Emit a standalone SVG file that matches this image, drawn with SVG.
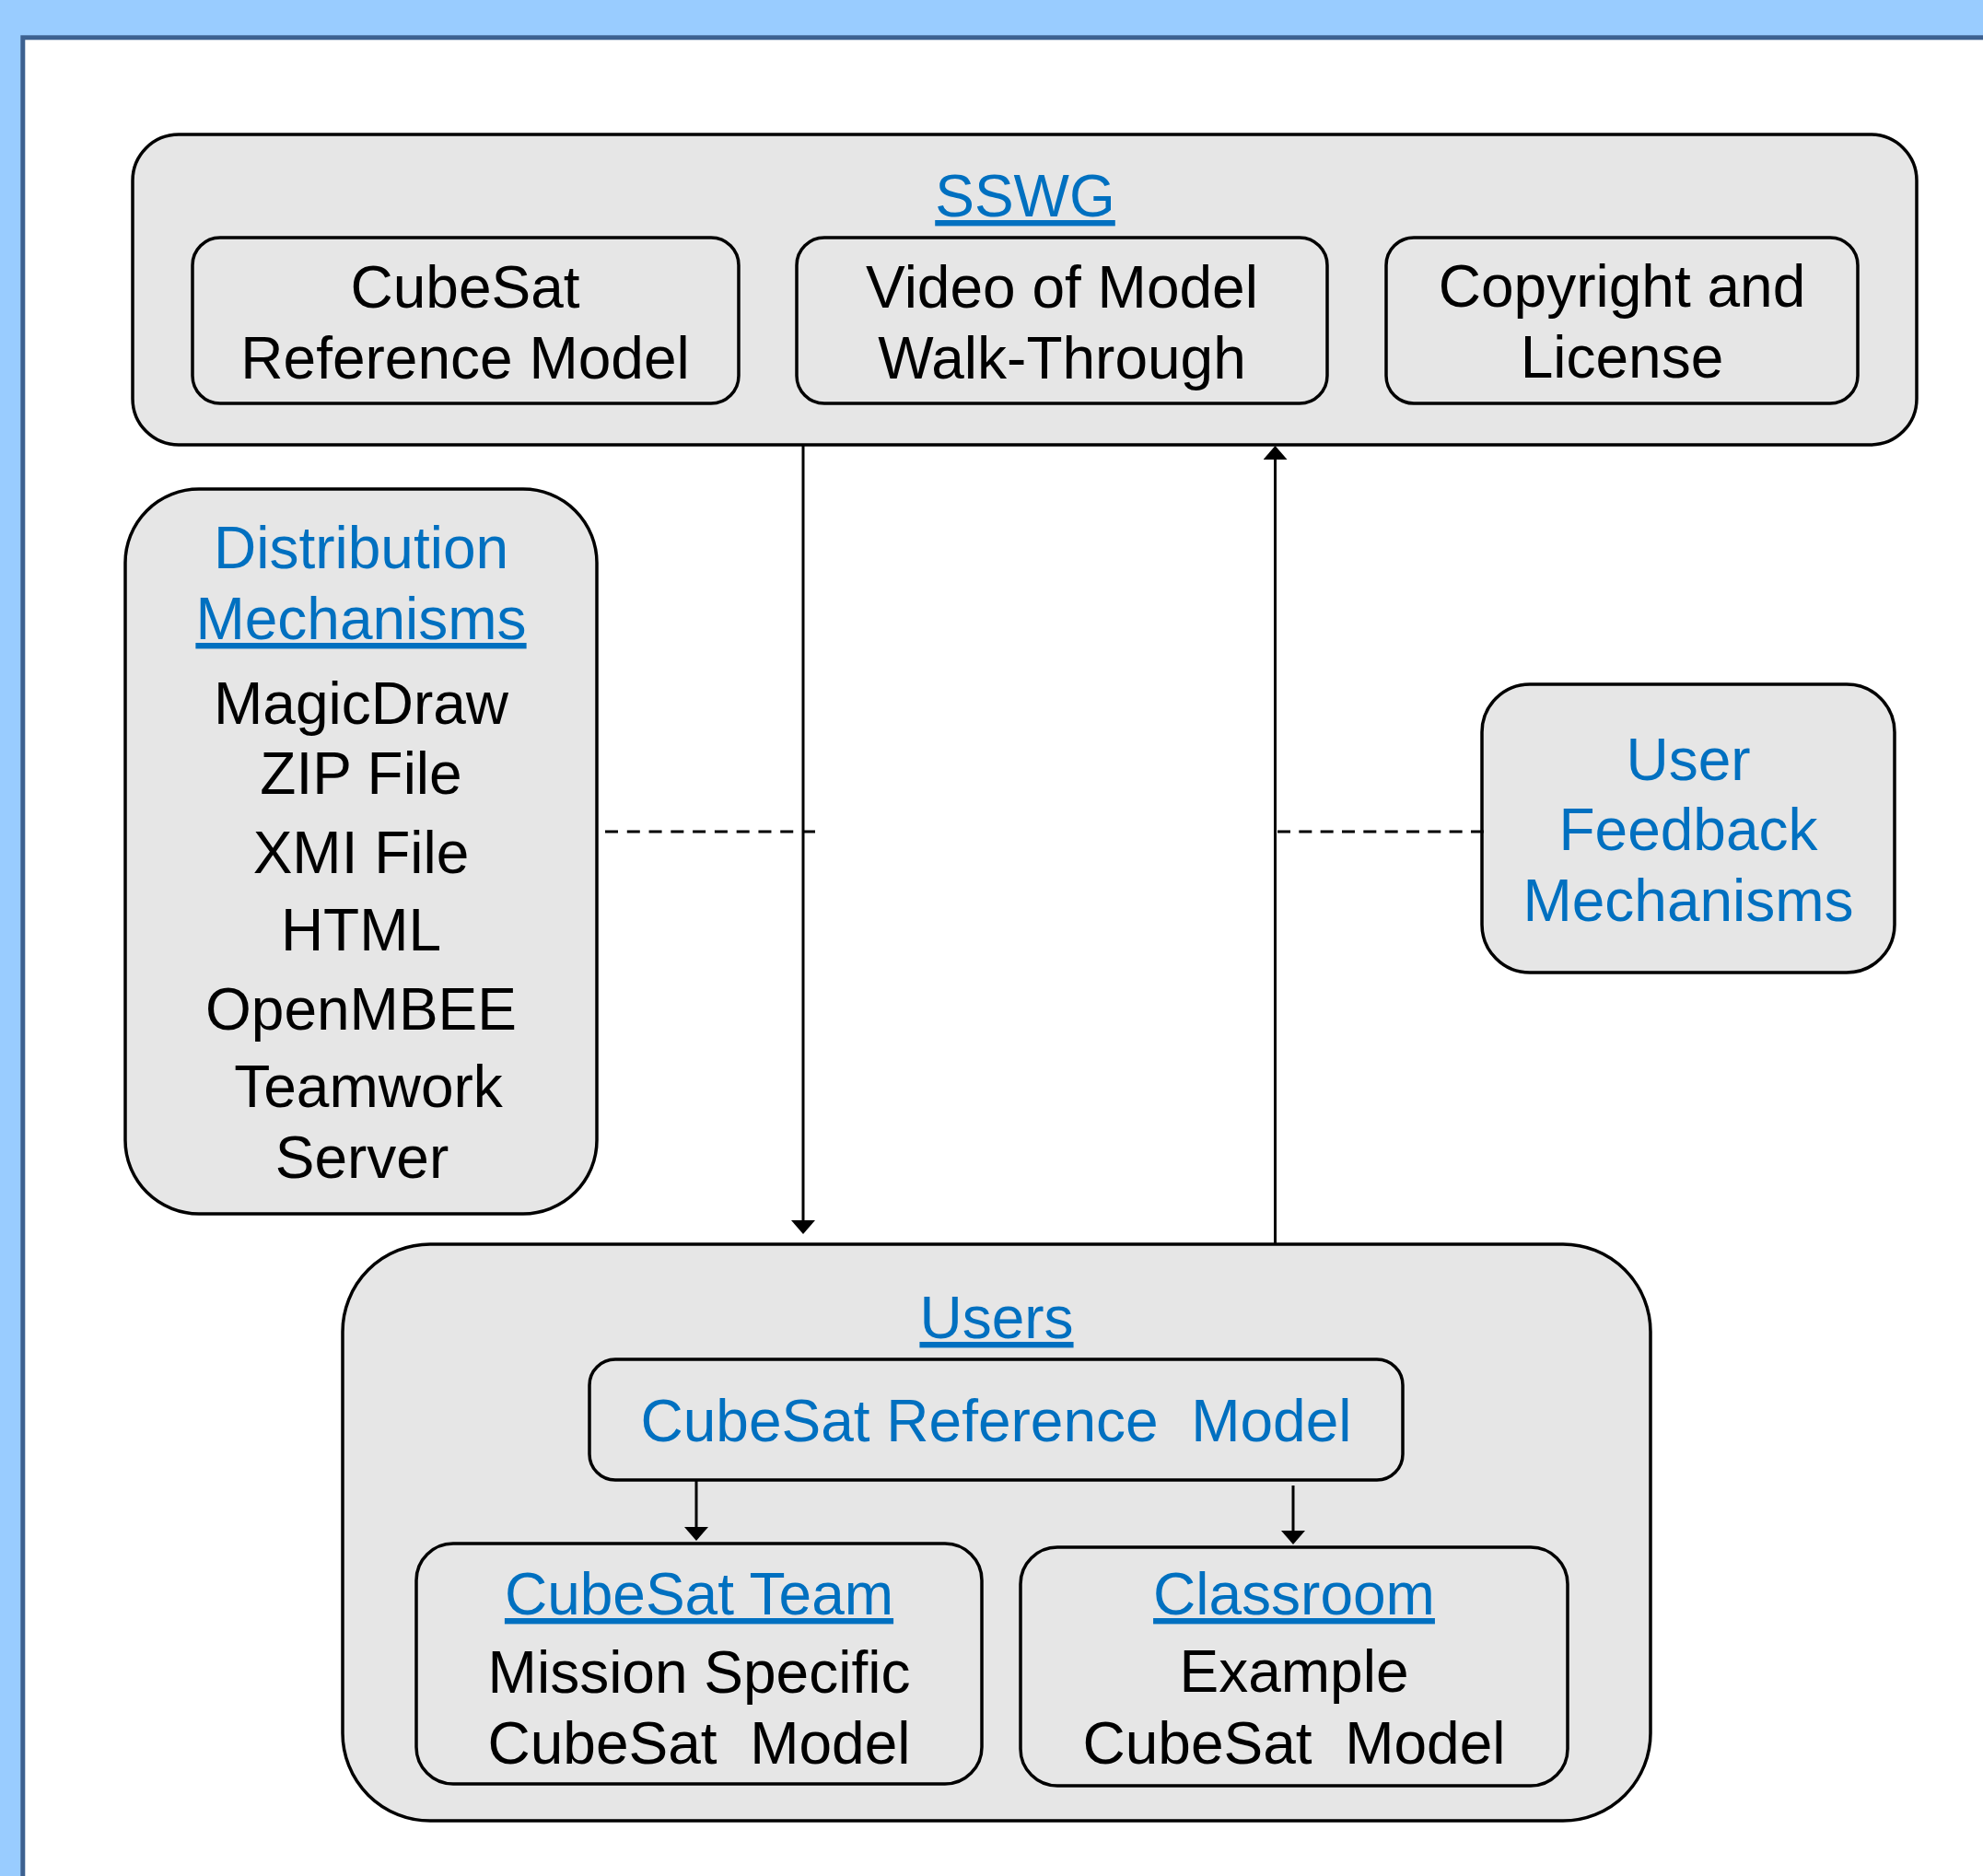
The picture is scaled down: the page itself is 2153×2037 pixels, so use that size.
<svg xmlns="http://www.w3.org/2000/svg" width="2153" height="2037" viewBox="0 0 2153 2037">
  <style>
    .box { fill: #E6E6E6; stroke: #000000; stroke-width: 3.5; }
    .t { font-family: "Liberation Sans", Arial, sans-serif; font-size: 64px; text-anchor: middle; fill: #000000; }
    .b { fill: #0070C0; }
    .u { text-decoration: underline; }
    .conn { stroke: #000000; stroke-width: 3; fill: none; }
    .dash { stroke: #000000; stroke-width: 3; fill: none; }
  </style>
  <defs>
    <marker id="arrow" markerUnits="userSpaceOnUse" markerWidth="16" markerHeight="26" refX="5" refY="13" orient="auto">
      <path d="M0,0 L15,13 L0,26 z" fill="#000000"/>
    </marker>
  </defs>

  <rect x="0" y="0" width="2153" height="2037" fill="#99CCFF"/>
  <rect x="24.8" y="40.8" width="2200" height="2100" fill="#FFFFFF" stroke="#3D6190" stroke-width="5"/>

  <g id="sswg">
    <rect class="box" x="144" y="146" width="1937" height="337" rx="50" ry="50"/>
    <text class="t b u" x="1113" y="235">SSWG</text>
  </g>
  <g id="cubesat-reference-model">
    <rect class="box" x="209" y="258" width="593" height="180" rx="30" ry="30"/>
    <text class="t" x="505" y="334">CubeSat</text>
    <text class="t" x="505" y="411">Reference Model</text>
  </g>
  <g id="video-walkthrough">
    <rect class="box" x="865" y="258" width="576" height="180" rx="30" ry="30"/>
    <text class="t" x="1153" y="334">Video of Model</text>
    <text class="t" x="1153" y="411">Walk-Through</text>
  </g>
  <g id="copyright-license">
    <rect class="box" x="1505" y="258" width="512" height="180" rx="30" ry="30"/>
    <text class="t" x="1761" y="333">Copyright and</text>
    <text class="t" x="1761" y="410">License</text>
  </g>

  <g id="distribution-mechanisms">
    <rect class="box" x="136" y="531" width="512" height="787" rx="80" ry="80"/>
    <text class="t b" x="392" y="617">Distribution</text>
    <text class="t b u" x="392" y="694">Mechanisms</text>
    <text class="t" x="392" y="786">MagicDraw</text>
    <text class="t" x="392" y="862">ZIP File</text>
    <text class="t" x="392" y="948">XMI File</text>
    <text class="t" x="392" y="1032">HTML</text>
    <text class="t" x="392" y="1118">OpenMBEE</text>
    <text class="t" x="400" y="1202">Teamwork</text>
    <text class="t" x="393" y="1279">Server</text>
  </g>

  <g id="user-feedback-mechanisms">
    <rect class="box" x="1609" y="743" width="448" height="313" rx="52" ry="52"/>
    <text class="t b" x="1833" y="847">User</text>
    <text class="t b" x="1833" y="923">Feedback</text>
    <text class="t b" x="1833" y="1000">Mechanisms</text>
  </g>

  <g id="users">
    <rect class="box" x="372" y="1351" width="1420" height="626" rx="95" ry="95"/>
    <text class="t b u" x="1082" y="1453">Users</text>
  </g>
  <g id="users-cubesat-reference-model">
    <rect class="box" x="640" y="1476" width="883" height="131" rx="28" ry="28"/>
    <text class="t b" x="1081.5" y="1565" xml:space="preserve">CubeSat Reference  Model</text>
  </g>
  <g id="cubesat-team">
    <rect class="box" x="452" y="1676" width="614" height="261" rx="40" ry="40"/>
    <text class="t b u" x="759" y="1753">CubeSat Team</text>
    <text class="t" x="759" y="1838">Mission Specific</text>
    <text class="t" x="759" y="1915" xml:space="preserve">CubeSat  Model</text>
  </g>
  <g id="classroom">
    <rect class="box" x="1108" y="1680" width="594" height="259" rx="40" ry="40"/>
    <text class="t b u" x="1405" y="1753">Classroom</text>
    <text class="t" x="1405" y="1837">Example</text>
    <text class="t" x="1405" y="1915" xml:space="preserve">CubeSat  Model</text>
  </g>

  <g id="connectors">
    <line class="conn" x1="872" y1="483" x2="872" y2="1330" marker-end="url(#arrow)"/>
    <line class="conn" x1="1384.5" y1="1351" x2="1384.5" y2="494" marker-end="url(#arrow)"/>
    <line class="dash" x1="657" y1="903" x2="885" y2="903" stroke-dasharray="14 9.78"/>
    <line class="dash" x1="1387" y1="903" x2="1611" y2="903" stroke-dasharray="14 9.33"/>
    <line class="conn" x1="756" y1="1607" x2="756" y2="1663" marker-end="url(#arrow)"/>
    <line class="conn" x1="1404" y1="1613" x2="1404" y2="1667" marker-end="url(#arrow)"/>
  </g>
</svg>
